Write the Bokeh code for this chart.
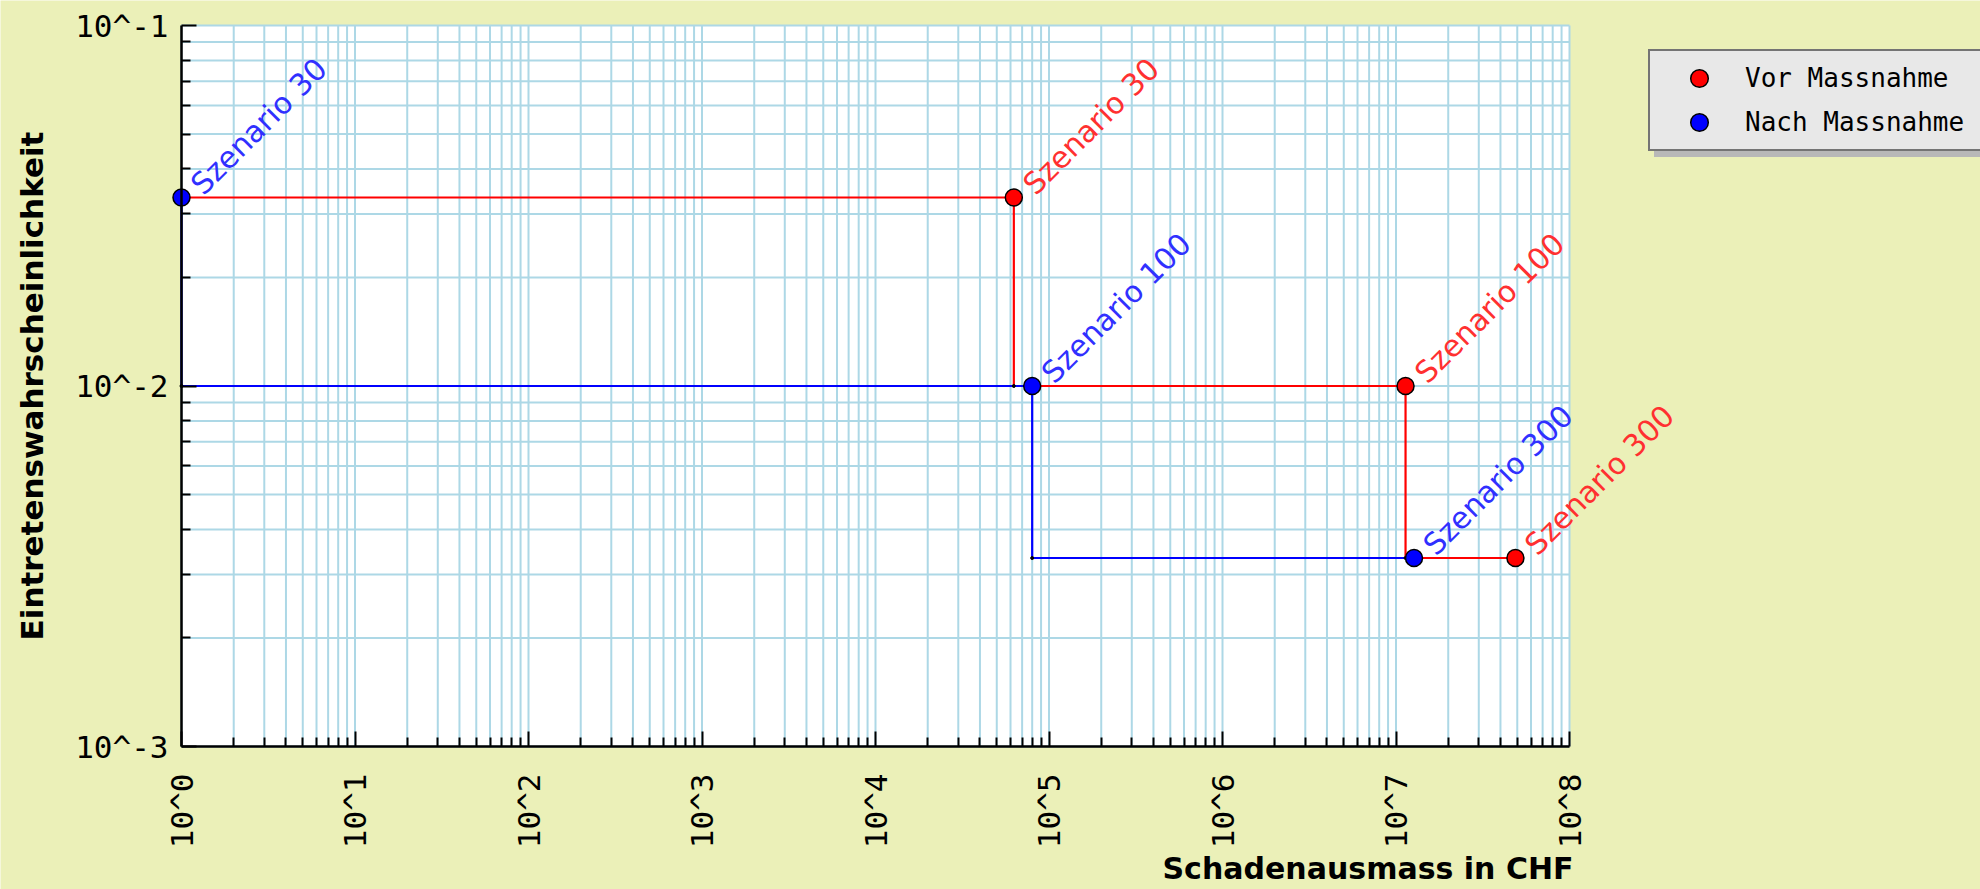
import math
from bokeh.plotting import figure
from bokeh.models import (Range1d, FixedTicker, Legend, LegendItem, ColumnDataSource,
                          LabelSet, Label)
from bokeh.embed import file_html
from bokeh.resources import INLINE
from bokeh.core.properties import value

# ---------------- data ----------------
scenarios = ["Szenario 30", "Szenario 100", "Szenario 300"]
probability = [1 / 30, 1 / 100, 1 / 300]
damage_before = [62700, 11350000, 48800000]
damage_after = [1, 80000, 12700000]
series_names = ["Vor Massnahme", "Nach Massnahme"]
series_colors = ["#FF0000", "#0000FF"]
x_tick_values = [10 ** k for k in range(0, 9)]
x_tick_labels = ["10^0", "10^1", "10^2", "10^3", "10^4", "10^5", "10^6", "10^7", "10^8"]
y_tick_values = [1e-3, 1e-2, 1e-1]
y_tick_labels = ["10^-3", "10^-2", "10^-1"]
x_label = "Schadenausmass in CHF"
y_label = "Eintretenswahrscheinlichkeit"

X_MIN, X_MAX = 1, 1e8
Y_MIN, Y_MAX = 1e-3, 1e-1

# ---------------- layout (pixels) ----------------
W, H = 1980, 889
PL, PR, PT, PB = 181, 1569, 25, 746      # data area inside the figure
BG = "#EBF0B8"
MONO = "DejaVu Sans Mono"
SANS = "DejaVu Sans"

lx0, lx1 = math.log10(X_MIN), math.log10(X_MAX)
ly0, ly1 = math.log10(Y_MIN), math.log10(Y_MAX)
ppx = (PR - PL) / (lx1 - lx0)
ppy = (PB - PT) / (ly1 - ly0)
x_range = Range1d(10 ** (lx0 - PL / ppx), 10 ** (lx1 + (W - PR) / ppx))
y_range = Range1d(10 ** (ly0 - (H - PB) / ppy), 10 ** (ly1 + PT / ppy))


def step_path(damage, prob, x0):
    xs, ys = [x0], [prob[0]]
    for i in range(len(damage)):
        xs.append(damage[i]); ys.append(prob[i])
        if i + 1 < len(damage):
            xs.append(damage[i]); ys.append(prob[i + 1])
    return xs, ys


def corners(damage, prob):
    return ([damage[i] for i in range(len(damage) - 1)],
            [prob[i + 1] for i in range(len(damage) - 1)])


p = figure(width=W, height=H, x_axis_type="log", y_axis_type="log",
           x_range=x_range, y_range=y_range,
           output_backend="svg", toolbar_location=None,
           min_border_left=0, min_border_right=0, min_border_top=0, min_border_bottom=0)
p.border_fill_color = BG
p.background_fill_color = BG
p.outline_line_color = None
p.xgrid.visible = False
p.ygrid.visible = False

# white data area
bg = p.quad(left=[X_MIN], right=[X_MAX], bottom=[Y_MIN], top=[Y_MAX],
            fill_color="white", line_color=None)
bg.level = "image"

# grid lines at every tick
x_minor = [m * 10 ** k for k in range(0, 8) for m in range(2, 10)]
y_minor = [m * 10 ** k for k in (-3, -2) for m in range(2, 10)]
gx = x_tick_values + x_minor
gy = y_tick_values + y_minor
g1 = p.segment(x0=gx, y0=[Y_MIN] * len(gx), x1=gx, y1=[Y_MAX] * len(gx),
               line_color="#ADD8E6", line_width=2)
g2 = p.segment(x0=[X_MIN] * len(gy), y0=gy, x1=[X_MAX] * len(gy), y1=gy,
               line_color="#ADD8E6", line_width=2)
g1.level = "underlay"
g2.level = "underlay"

# axes fixed on the data area edges
p.xaxis.fixed_location = Y_MIN
p.yaxis.fixed_location = X_MIN
p.xaxis.bounds = (X_MIN, X_MAX)
p.yaxis.bounds = (Y_MIN, Y_MAX)
p.xaxis.ticker = FixedTicker(ticks=x_tick_values, minor_ticks=x_minor)
p.yaxis.ticker = FixedTicker(ticks=y_tick_values, minor_ticks=y_minor)
p.xaxis.major_label_overrides = {v: l for v, l in zip(x_tick_values, x_tick_labels)}
p.yaxis.major_label_overrides = {v: l for v, l in zip(y_tick_values, y_tick_labels)}

for ax in (p.xaxis, p.yaxis):
    ax.axis_line_color = "black"
    ax.axis_line_width = 2.5
    ax.major_tick_line_color = "black"
    ax.major_tick_line_width = 2
    ax.minor_tick_line_color = "black"
    ax.minor_tick_line_width = 2
    ax.major_tick_in = 15
    ax.major_tick_out = 0
    ax.minor_tick_in = 9
    ax.minor_tick_out = 0
    ax.major_label_text_font = MONO
    ax.major_label_text_font_size = "31px"
    ax.major_label_text_color = "black"

p.xaxis.major_label_orientation = math.pi / 2
p.xaxis.major_label_standoff = 27
p.yaxis.major_label_standoff = 13

# axis titles
p.add_layout(Label(x=X_MIN, y=10 ** ((ly0 + ly1) / 2), x_offset=-150, angle=math.pi / 2,
                   text=y_label, text_align="center", text_baseline="middle",
                   text_font=SANS, text_font_style="bold", text_font_size="31px",
                   text_color="black"))
p.add_layout(Label(x=X_MAX, y=Y_MIN, x_offset=4, y_offset=-122, text=x_label, text_align="right",
                   text_baseline="alphabetic", text_font=SANS, text_font_style="bold",
                   text_font_size="30px", text_color="black"))

# step lines
rx, ry = step_path(damage_before, probability, X_MIN)
bx, by = step_path(damage_after, probability, X_MIN)
p.line(rx, ry, line_color=series_colors[0], line_width=2.2)
p.line(bx, by, line_color=series_colors[1], line_width=2.2)

cx1, cy1 = corners(damage_before, probability)
cx2, cy2 = corners(damage_after, probability)
p.scatter(cx1 + cx2, cy1 + cy2, size=3, color="black")

src_before = ColumnDataSource(dict(x=damage_before, y=probability, t=scenarios))
src_after = ColumnDataSource(dict(x=damage_after, y=probability, t=scenarios))
r_before = p.scatter("x", "y", source=src_before, size=17, fill_color=series_colors[0],
                     line_color="black", line_width=1.5)
r_after = p.scatter("x", "y", source=src_after, size=17, fill_color=series_colors[1],
                    line_color="black", line_width=1.5)

for src, col in ((src_before, "#FF3030"), (src_after, "#3030FF")):
    p.add_layout(LabelSet(x="x", y="y", text="t", source=src, angle=math.pi / 4,
                          x_offset=22, y_offset=1, text_align="left", text_baseline="alphabetic",
                          text_font=value(SANS), text_font_size=value("30px"),
                          text_color=value(col)))

# legend + shadow (shadow uses invisible dummy renderers and empty labels)
dummy1 = p.scatter([], [], size=17, fill_alpha=0, line_alpha=0)
dummy2 = p.scatter([], [], size=17, fill_alpha=0, line_alpha=0)
common = dict(padding=5, margin=0, glyph_width=88, glyph_height=44, label_height=44,
              label_width=270, spacing=0, label_standoff=2,
              label_text_font=MONO, label_text_font_size="26px")
LEG_X, LEG_Y = 1648, H - 151
shadow = Legend(items=[LegendItem(label="", renderers=[dummy1]),
                       LegendItem(label="", renderers=[dummy2])],
                location=(LEG_X + 6, LEG_Y - 6), background_fill_color="#B8B8B8",
                background_fill_alpha=1, border_line_color=None, label_text_color="#B8B8B8",
                **common)
p.add_layout(shadow, "center")

legend = Legend(items=[LegendItem(label=series_names[0], renderers=[r_before]),
                       LegendItem(label=series_names[1], renderers=[r_after])],
                location=(LEG_X, LEG_Y), background_fill_color="#E8E8E8",
                background_fill_alpha=1, border_line_color="black", border_line_width=2,
                label_text_color="black", **common)
p.add_layout(legend, "center")

open("out.html", "w").write(file_html(p, INLINE))
